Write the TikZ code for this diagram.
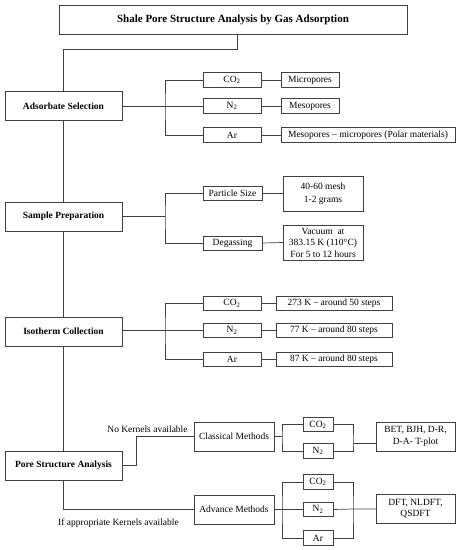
\documentclass[tikz,border=0pt]{standalone}
\usepackage{fontspec}
\setmainfont{Liberation Serif}
\begin{document}
\begin{tikzpicture}[x=1pt,y=-1pt,
  every node/.style={inner sep=0pt, outer sep=0pt},
  box/.style={draw=black!75, line width=0.7pt, align=center, font=\fontsize{9.5}{11.5}\selectfont},
  mainbox/.style={box, minimum width=117pt, minimum height=29pt, font=\bfseries\fontsize{9.5}{11.5}\selectfont},
  gasbox/.style={box, minimum width=58pt, minimum height=14.5pt},
  smallgas/.style={box, minimum width=30pt, minimum height=14.5pt},
  conn/.style={draw=black!75, line width=0.7pt},
  lbl/.style={font=\fontsize{9.5}{11.5}\selectfont}]
\useasboundingbox (0,0) rectangle (463,550);

% title
\node[box, minimum width=348pt, minimum height=29pt, font=\bfseries\fontsize{11}{13}\selectfont] (title) at (233,19.5) {Shale Pore Structure Analysis by Gas Adsorption};

% main column
\node[mainbox] (ads) at (63.5,106) {Adsorbate Selection};
\node[mainbox] (samp) at (63.5,216.5) {Sample Preparation};
\node[mainbox] (iso) at (63.5,331.5) {Isotherm Collection};
\node[mainbox] (pore) at (63.5,465.5) {Pore Structure Analysis};

\coordinate (t1) at (237,34);
\coordinate (t2) at (63.5,49);
\draw[conn] (t1) |- (t2) -- (ads.north);
\draw[conn] (ads.south) -- (samp.north);
\draw[conn] (samp.south) -- (iso.north);
\draw[conn] (iso.south) -- (pore.north);

% adsorbate selection
\node[gasbox] (aco2) at (232,80) {CO\textsubscript{2}};
\node[gasbox] (an2) at (232,106) {N\textsubscript{2}};
\node[gasbox] (aar) at (232,135) {Ar};
\node[gasbox] (micro) at (310,80) {Micropores};
\node[gasbox] (meso) at (310,106) {Mesopores};
\node[box, minimum width=174pt, minimum height=14.5pt] (mm) at (368,135) {Mesopores -- micropores (Polar materials)};
\coordinate (j1) at (165,106);
\draw[conn] (ads.east) -- (an2.west);
\draw[conn] (aco2.west) -| (j1) |- (aar.west);
\draw[conn] (aco2.east) -- (micro.west);
\draw[conn] (an2.east) -- (meso.west);
\draw[conn] (aar.east) -- (mm.west);

% sample preparation
\node[box, minimum width=59pt, minimum height=14.5pt] (psize) at (232.5,193.5) {Particle Size};
\node[box, minimum width=59pt, minimum height=14pt] (degas) at (232.5,243) {Degassing};
\node[box, minimum width=80pt, minimum height=35pt, font=\fontsize{9.5}{13}\selectfont] (mesh) at (323,193.5) {40-60 mesh\\1-2 grams};
\node[box, minimum width=80pt, minimum height=35pt, font=\fontsize{9.5}{11.5}\selectfont] (vac) at (323,242.5) {Vacuum~~at\\383.15 K (110°C)\\For 5 to 12 hours};
\coordinate (j2) at (165,216.5);
\draw[conn] (samp.east) -- (j2);
\draw[conn] (psize.west) -| (j2) |- (degas.west);
\draw[conn] (psize.east) -- (mesh.west);
\draw[conn] (degas.east) -- (vac.west);

% isotherm collection
\node[gasbox] (ico2) at (232,303.5) {CO\textsubscript{2}};
\node[gasbox] (in2) at (232,330.5) {N\textsubscript{2}};
\node[gasbox] (iar) at (232,359.5) {Ar};
\node[box, minimum width=116pt, minimum height=14.5pt] (s1) at (334,303.5) {273 K -- around 50 steps};
\node[box, minimum width=116pt, minimum height=14.5pt] (s2) at (334,330.5) {77 K -- around 80 steps};
\node[box, minimum width=116pt, minimum height=14.5pt] (s3) at (334,359.5) {87 K -- around 80 steps};
\coordinate (j3) at (165,330.5);
\draw[conn] (iso.east |- j3) -- (in2.west);
\draw[conn] (ico2.west) -| (j3) |- (iar.west);
\draw[conn] (ico2.east) -- (s1.west);
\draw[conn] (in2.east) -- (s2.west);
\draw[conn] (iar.east) -- (s3.west);

% pore structure analysis
\node[box, minimum width=80pt, minimum height=29pt] (cls) at (234,436.5) {Classical Methods};
\node[box, minimum width=80pt, minimum height=29pt] (adv) at (234,509.5) {Advance Methods};
\node[lbl] (nok) at (147.5,429) {No Kernels available};
\node[lbl] (ifk) at (118.5,523) {If appropriate Kernels available};
\coordinate (k1) at (136,465.5);
\draw[conn] (pore.east) -- (k1) |- (cls.west);
\draw[conn] (pore.south) |- (adv.west);

\node[smallgas] (cco2) at (318,424.5) {CO\textsubscript{2}};
\node[smallgas] (cn2) at (318,451) {N\textsubscript{2}};
\node[box, minimum width=79pt, minimum height=29pt] (bet) at (415.5,436.5) {BET, BJH, D-R,\\D-A- T-plot};
\coordinate (j4) at (282,436.5);
\coordinate (j5) at (353,443);
\draw[conn] (cls.east) -- (j4);
\draw[conn] (cco2.west) -| (j4) |- (cn2.west);
\draw[conn] (cco2.east) -| (j5) |- (cn2.east);
\draw[conn] (j5) -- (bet.west |- j5);

\node[smallgas] (dco2) at (318,482) {CO\textsubscript{2}};
\node[smallgas] (dn2) at (318,509.5) {N\textsubscript{2}};
\node[smallgas] (dar) at (318,538) {Ar};
\node[box, minimum width=79pt, minimum height=29pt] (dft) at (415.5,508.5) {DFT, NLDFT,\\QSDFT};
\coordinate (j6) at (282,509.5);
\coordinate (j7) at (353,509);
\draw[conn] (adv.east) -- (dn2.west);
\draw[conn] (dco2.west) -| (j6) |- (dar.west);
\draw[conn] (dco2.east) -| (j7) |- (dar.east);
\draw[conn] (dn2.east) -- (j7) -- (dft.west |- j7);
\end{tikzpicture}
\end{document}
